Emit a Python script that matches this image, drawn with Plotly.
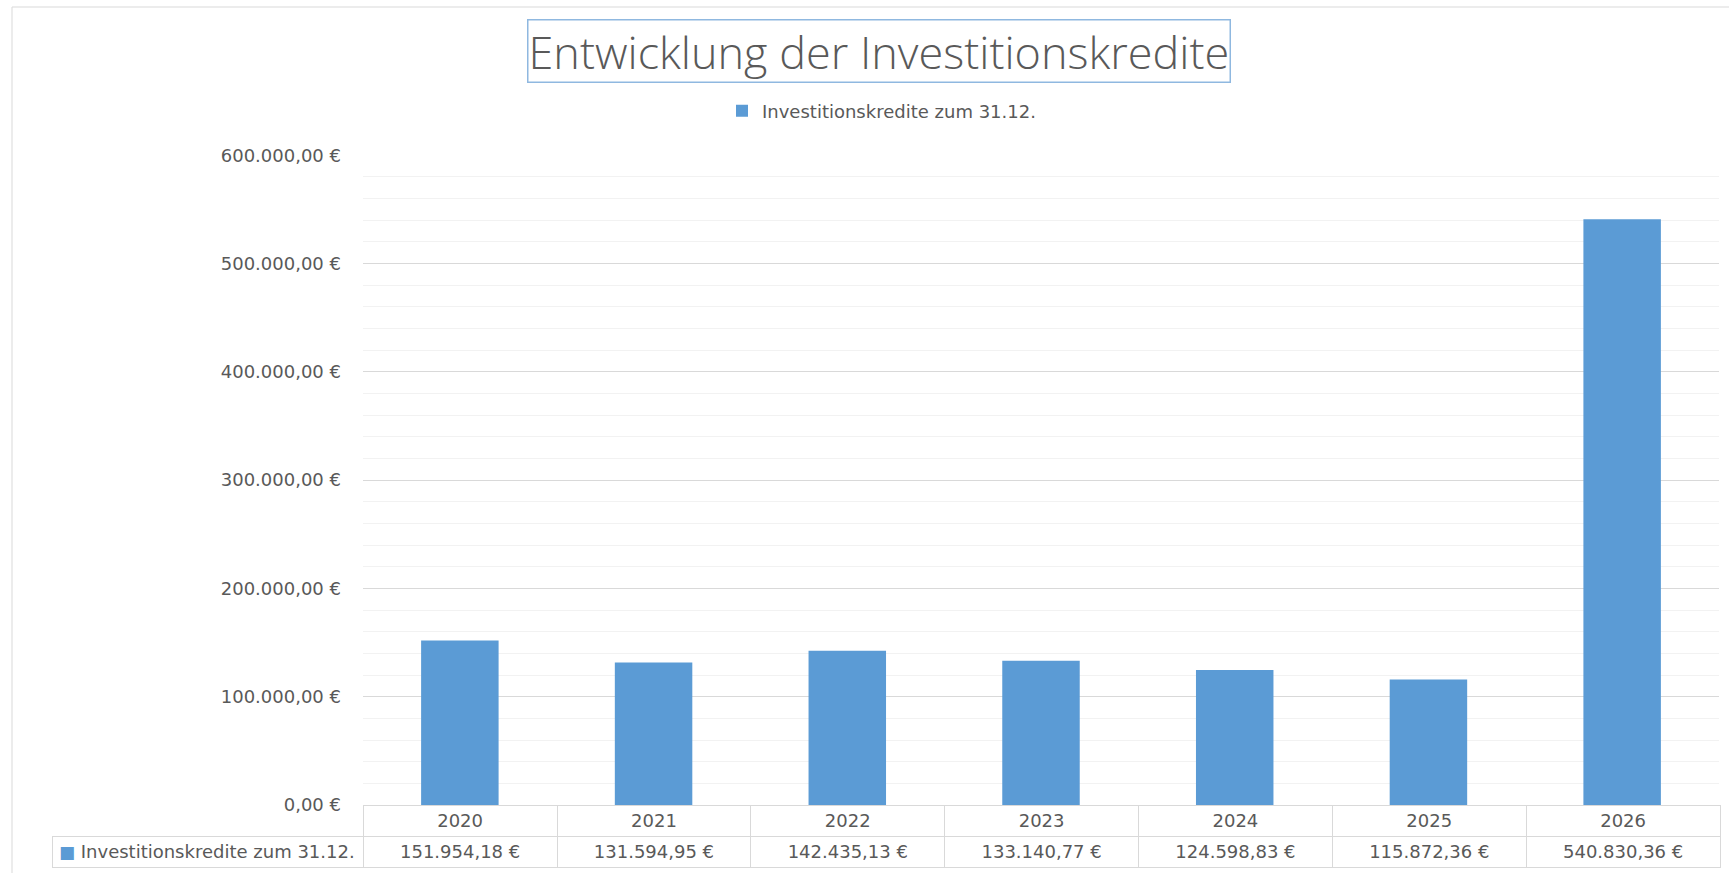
import plotly.graph_objects as go

W, H = 1729, 873

years = ["2020", "2021", "2022", "2023", "2024", "2025", "2026"]
values = [151954.18, 131594.95, 142435.13, 133140.77, 124598.83, 115872.36, 540830.36]
series_name = "Investitionskredite zum 31.12."
title_text = "Entwicklung der Investitionskredite"
y_max = 600000
y_major = 100000
y_minor = 20000

BAR = "#5b9bd5"
TXT = "#595959"
GRID = "#d9d9d9"
MINOR = "#f2f2f2"
FONT = "DejaVu Sans"
FS = 18
NB = "\u00a0"


def fmt_eur(v):
    s = f"{v:,.2f}"
    s = s.replace(",", "X").replace(".", ",").replace("X", ".")
    return s + " €"


# pixel geometry helpers (plot area / table placement)
px_l, px_r = 363, 1719
py_t, py_b = 155, 805
tbl_l, tbl_b = 52, 871
row_h = 31


def fx(p):
    return p / W


def fy(p):
    return 1 - p / H


fig = go.Figure()

fig.add_trace(go.Bar(
    x=years, y=values, name=series_name,
    marker=dict(color=BAR, line=dict(width=0)),
    width=0.4,
    xaxis="x", yaxis="y",
))

# data table under the chart
n = len(years)
header_vals = [""] + years
first_cell = NB * 3 + "\u2009" + series_name.replace(" ", NB)
cell_vals = [[first_cell]] + [[fmt_eur(v)] for v in values]
fig.add_trace(go.Table(
    domain=dict(x=[fx(tbl_l), fx(px_r + 1)], y=[fy(tbl_b), fy(py_b)]),
    columnwidth=[px_l - tbl_l] + [(px_r - px_l) / n] * n,
    header=dict(
        values=header_vals,
        height=row_h,
        align="center",
        fill=dict(color=["rgba(0,0,0,0)"] + ["white"] * n),
        line=dict(color=["rgba(0,0,0,0)"] + [GRID] * n, width=1),
        font=dict(family=FONT, size=FS, color=TXT),
    ),
    cells=dict(
        values=cell_vals,
        height=row_h,
        align=["left"] + ["center"] * n,
        fill=dict(color="white"),
        line=dict(color=GRID, width=1),
        font=dict(family=FONT, size=FS, color=TXT),
    ),
))

fig.update_layout(
    width=W, height=H,
    margin=dict(l=0, r=0, t=0, b=0, autoexpand=False),
    paper_bgcolor="white",
    plot_bgcolor="white",
    separators=",.",
    showlegend=True,
    legend=dict(
        orientation="h", x=fx(722), y=fy(111), xanchor="left", yanchor="middle",
        font=dict(family=FONT, size=FS, color=TXT),
        itemwidth=30, bgcolor="rgba(0,0,0,0)",
    ),
    xaxis=dict(
        domain=[fx(px_l), fx(px_r)],
        anchor="y",
        automargin=False,
        showticklabels=False,
        showgrid=False,
        showline=False,
        zeroline=False,
        ticks="",
    ),
    yaxis=dict(
        domain=[fy(py_b), fy(py_t)],
        anchor="x",
        automargin=False,
        range=[0, y_max * 1.0004],
        dtick=y_major,
        tickformat=",.2f",
        ticksuffix=" €",
        tickfont=dict(family=FONT, size=FS, color=TXT),
        gridcolor=GRID,
        gridwidth=1,
        zeroline=False,
        showline=False,
        ticks="",
        ticklabelstandoff=21,
        minor=dict(dtick=y_minor, showgrid=True, gridcolor=MINOR, gridwidth=1),
    ),
    annotations=[
        dict(
            text=title_text,
            xref="paper", yref="paper",
            x=fx(879), y=fy(51), xanchor="center", yanchor="middle",
            showarrow=False,
            font=dict(family="Open Sans", size=45, color=TXT, weight=300),
            bordercolor="#8fb8e0", borderwidth=1.5, borderpad=0,
        ),
        # legend key inside the data table's series cell
        dict(
            text="■",
            xref="paper", yref="paper",
            x=fx(67), y=fy(py_b + row_h * 1.5), xanchor="center", yanchor="middle",
            showarrow=False,
            font=dict(family=FONT, size=17, color=BAR),
        ),
    ],
    shapes=[dict(
        type="rect", xref="paper", yref="paper",
        x0=fx(12), x1=fx(W + 20), y0=fy(H + 20), y1=fy(7),
        line=dict(color=GRID, width=1), fillcolor="rgba(0,0,0,0)", layer="below",
    )],
)

fig.write_html(
    "out.html",
    config={"displayModeBar": False},
    post_script="document.body.style.margin='0';document.body.style.overflow='hidden';",
)
